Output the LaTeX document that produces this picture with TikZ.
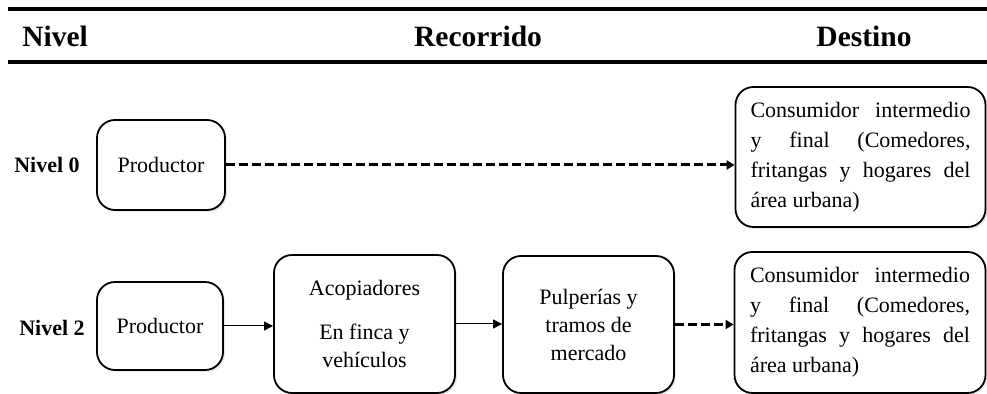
\documentclass[tikz,border=0pt]{standalone}
\usepackage{fontspec}
\setmainfont{Liberation Serif}
\usetikzlibrary{positioning,arrows.meta,shadows}

\newcommand{\linea}[1]{\makebox[110pt][s]{\spaceskip=0pt\xspaceskip=0pt #1}}

\begin{document}
\begin{tikzpicture}[x=0.5pt, y=-0.5pt,
    caja/.style={draw, line width=0.9pt, rounded corners=9pt, align=center,
      inner sep=2pt, fill=white, font=\fontsize{11}{14}\selectfont,
      drop shadow={opacity=0.18, shadow xshift=1pt, shadow yshift=-1pt}},
    destino/.style={caja, align=justify, text width=110pt,
      font=\fontsize{11}{15}\selectfont},
    etiqueta/.style={font=\bfseries\fontsize{11}{13}\selectfont},
    titulo/.style={anchor=base, font=\bfseries\fontsize{14.75}{17}\selectfont},
    flecha/.style={line width=0.5pt, -{Triangle[length=4.5pt, width=4.5pt]}},
    punteada/.style={line width=1.5pt, dash pattern=on 4.5pt off 2pt,
      -{Triangle[length=4pt, width=4.5pt]}}]
  \useasboundingbox (0,0) rectangle (987,394);
  % encabezado
  \draw[line width=2pt] (8,9) -- (987,9);
  \draw[line width=2pt] (8,62) -- (987,62);
  \node[titulo, anchor=base west, inner sep=0pt] (tnivel) at (22,47) {Nivel};
  \node[titulo] (trecorrido) at (478,47) {Recorrido};
  \node[titulo] (tdestino) at (864,47) {Destino};
  % nivel 0
  \node[etiqueta] (n0) at (47,165) {Nivel 0};
  \node[caja, minimum width=64pt, minimum height=45pt] (p0) at (161,165) {Productor};
  \node[destino, minimum width=125pt, minimum height=70pt] (d0) at (860.5,157)
    {\linea{Consumidor intermedio}\\\linea{y final (Comedores,}\\
     \linea{fritangas y hogares del}\\área urbana)};
  \draw[punteada] (p0.east) -- (p0.east -| d0.west);
  % nivel 2
  \node[etiqueta] (n2) at (52,328) {Nivel 2};
  \node[caja, minimum width=63pt, minimum height=44pt] (p2) at (160,326) {Productor};
  \node[caja, minimum width=90.5pt, minimum height=69pt] (ac) at (364.5,324)
    {Acopiadores\\[8pt]En finca y\\vehículos};
  \node[caja, minimum width=85.5pt, minimum height=68.5pt] (pu) at (588.5,324.5)
    {Pulperías y\\tramos de\\mercado};
  \node[destino, minimum width=125.5pt, minimum height=70.5pt] (d2) at (860,322.5)
    {\linea{Consumidor intermedio}\\\linea{y final (Comedores,}\\
     \linea{fritangas y hogares del}\\área urbana)};
  \draw[flecha] (p2.east) -- (p2.east -| ac.west);
  \draw[flecha] (ac.east) -- (ac.east -| pu.west);
  \draw[punteada] (pu.east) -- (pu.east -| d2.west);
\end{tikzpicture}
\end{document}
